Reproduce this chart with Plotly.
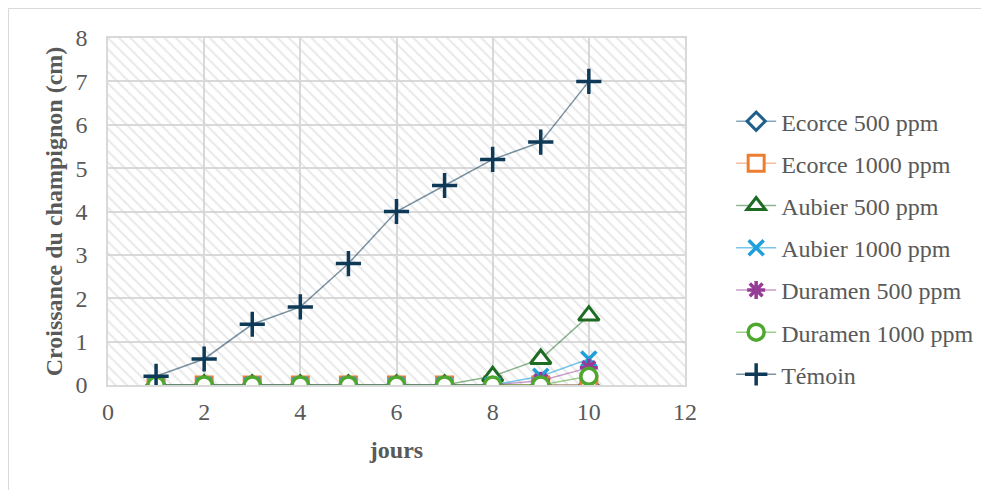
import plotly.graph_objects as go

days = [1, 2, 3, 4, 5, 6, 7, 8, 9, 10]
ecorce_500 = [0, 0, 0, 0, 0, 0, 0, 0, 0, 0]
ecorce_1000 = [0, 0, 0, 0, 0, 0, 0, 0, 0, 0]
aubier_500 = [0, 0, 0, 0, 0, 0, 0, 0.2, 0.6, 1.6]
aubier_1000 = [0, 0, 0, 0, 0, 0, 0, 0, 0.2, 0.6]
duramen_500 = [0, 0, 0, 0, 0, 0, 0, 0, 0.1, 0.4]
duramen_1000 = [0, 0, 0, 0, 0, 0, 0, 0, 0, 0.2]
temoin = [0.2, 0.6, 1.4, 1.8, 2.8, 4.0, 4.6, 5.2, 5.6, 7.0]

# name, values, marker colour, line colour, symbol, size, stroke width, fill
series = [
    ("Ecorce 500 ppm", ecorce_500, "#1f5f8b", "rgba(31,95,139,0.55)", "diamond", 14, 3, "white"),
    ("Ecorce 1000 ppm", ecorce_1000, "#ed7d31", "rgba(237,125,49,0.5)", "square", 16, 3, "white"),
    ("Aubier 500 ppm", aubier_500, "#1e6b24", "rgba(30,107,36,0.5)", "triangle-up", 18, 3, "white"),
    ("Aubier 1000 ppm", aubier_1000, "#1ea0dc", "rgba(30,160,220,0.6)", "x-thin", 15, 3.5, None),
    ("Duramen 500 ppm", duramen_500, "#963c96", "rgba(150,60,150,0.5)", "asterisk", 15, 3.5, None),
    ("Duramen 1000 ppm", duramen_1000, "#4ea72e", "rgba(78,167,46,0.55)", "circle", 16, 3.5, "white"),
    ("Témoin", temoin, "#0f3a57", "rgba(15,58,87,0.55)", "cross-thin", 18, 3.5, None),
]

font_family = "Liberation Serif"
text_color = "#595959"
grid_color = "#d9d9d9"

fig = go.Figure()

# hatched plot-area background
fig.add_trace(go.Scatter(
    x=[0, 12, 12, 0, 0], y=[0, 0, 8, 8, 0],
    mode="lines", fill="toself",
    line=dict(width=0, color="rgba(0,0,0,0)"),
    fillcolor="rgba(0,0,0,0)",
    fillpattern=dict(shape="\\", size=8, solidity=0.25,
                     fgcolor="#d2d2d2", bgcolor="rgba(255,255,255,0)"),
    hoverinfo="skip", showlegend=False,
))

for i, (name, vals, mcol, lcol, sym, size, lw, fill) in enumerate(series):
    fig.add_trace(go.Scatter(
        x=days, y=vals, name=name, mode="lines+markers",
        line=dict(color=lcol, width=1.5),
        marker=dict(symbol=sym, size=size, color=fill if fill else mcol,
                    line=dict(color=mcol, width=lw)),
        legendgroup=str(i),
    ))

L, T, W, H = 100, 30, 577, 347
fig.add_shape(type="rect", xref="paper", yref="paper",
              x0=(0.5 - L) / W, x1=2.0, y0=-1.0, y1=(T + H - 0.5) / H,
              line=dict(color=grid_color, width=1), fillcolor="rgba(0,0,0,0)",
              layer="below")

fig.update_layout(
    width=989, height=490,
    margin=dict(l=L, r=989 - L - W, t=T, b=490 - T - H),
    paper_bgcolor="white", plot_bgcolor="white",
    font=dict(family=font_family, size=24, color=text_color),
    xaxis=dict(range=[0, 12], dtick=2, showgrid=True, gridcolor=grid_color,
               gridwidth=1.5, zeroline=False, showline=True, linecolor=grid_color,
               linewidth=1.5, mirror=True, ticks="", ticklen=0,
               ticklabelstandoff=4,
               title=dict(text="<b>jours</b>", standoff=18,
                          font=dict(size=24, color=text_color))),
    yaxis=dict(range=[0, 8], dtick=1, showgrid=True, gridcolor=grid_color,
               gridwidth=1.5, zeroline=False, showline=True, linecolor=grid_color,
               linewidth=1.5, mirror=True, ticks="", ticklen=0,
               ticklabelstandoff=14,
               title=dict(text="<b>Croissance du champignon (cm)</b>", standoff=6,
                          font=dict(size=24, color=text_color))),
    legend=dict(x=1.08, y=0.824, xanchor="left", yanchor="top",
                tracegroupgap=8, font=dict(size=24, color=text_color),
                bgcolor="rgba(0,0,0,0)", itemwidth=40),
    hovermode=False,
)

fig.write_html("out.html")
